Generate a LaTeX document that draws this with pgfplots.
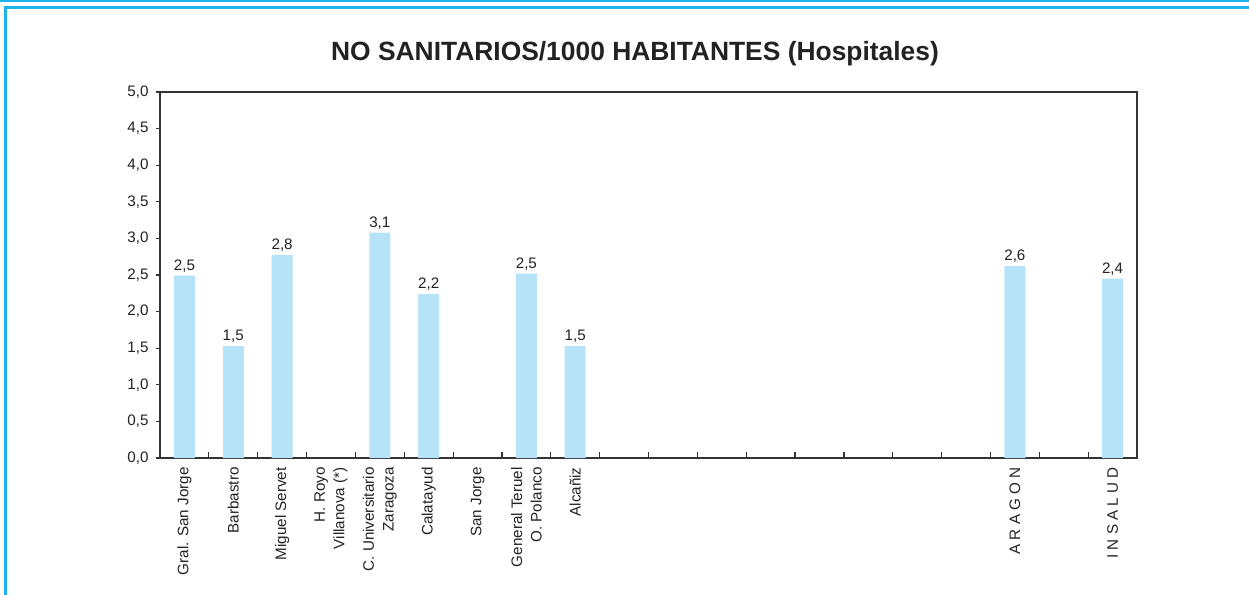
\documentclass[border=0pt]{standalone}
\usepackage{fontspec}
\setmainfont{Liberation Sans}
\usepackage{pgfplots}
\pgfplotsset{compat=1.18}
\definecolor{barblue}{HTML}{B6E3F8}
\definecolor{framecyan}{HTML}{1CB4EA}
\definecolor{axgray}{HTML}{333333}
\definecolor{txt}{HTML}{222222}

\pgfplotstableread{
x y lab
0 2.49 2,5
1 1.53 1,5
2 2.77 2,8
4 3.08 3,1
5 2.24 2,2
7 2.52 2,5
8 1.53 1,5
17 2.62 2,6
19 2.45 2,4
}\datatab

\begin{document}
\begin{tikzpicture}
\path[use as bounding box] (0,0) rectangle (624.5pt,-297.5pt);
\draw[framecyan,line width=1pt] (0,-0.4pt) -- (624.5pt,-0.4pt);
\draw[framecyan,line width=1.3pt] (2.8pt,-297.5pt) -- (2.8pt,-3.6pt) -- (624.5pt,-3.6pt);
\node[font=\fontsize{13.2}{15}\selectfont\bfseries,text=txt] at (317.5pt,-26.8pt)
  {NO SANITARIOS/1000 HABITANTES (Hospitales)};
\begin{axis}[
  at={(80pt,-229pt)}, anchor=south west,
  width=488.5pt, height=183pt, scale only axis,
  xmin=-0.5, xmax=19.5, ymin=0, ymax=5,
  axis line style={axgray,line width=0.8pt},
  xtick pos=bottom, ytick pos=left,
  ytick={0,0.5,...,5},
  yticklabel style={font=\fontsize{7.6}{9}\selectfont,text=txt},
  /pgf/number format/assume math mode=true,
  yticklabel={\pgfmathprintnumber[fixed,fixed zerofill,precision=1,use comma]{\tick}},
  ytick style={axgray,line width=0.6pt},
  major tick length=2.2pt,
  ytick align=outside,
  xtick align=inside,
  xtick={0,...,19},
  major x tick style={draw=none},
  minor xtick={0.5,1.5,...,18.5},
  minor x tick style={axgray,line width=0.6pt},
  minor tick length=3pt,
  xticklabels={Gral. San Jorge,Barbastro,Miguel Servet,{H. Royo\\Villanova (*)},
    {C. Universitario\\Zaragoza},Calatayud,San Jorge,{General Teruel\\O. Polanco},
    Alcañiz,,,,,,,,,{A R A G O N},,{I N S A L U D}},
  xticklabel style={font=\fontsize{7.6}{9.8}\selectfont,text=txt,rotate=90,
    anchor=east,align=right,inner sep=1pt,xshift=-3.5pt},
  clip=false,
]
\addplot[ybar,bar width=10.5pt,fill=barblue,draw=none,
  point meta=explicit symbolic,nodes near coords,
  every node near coord/.append style={font=\fontsize{7.6}{9}\selectfont,text=txt,inner sep=1.5pt}]
  table[x=x,y=y,meta=lab]{\datatab};
\end{axis}
\end{tikzpicture}
\end{document}
